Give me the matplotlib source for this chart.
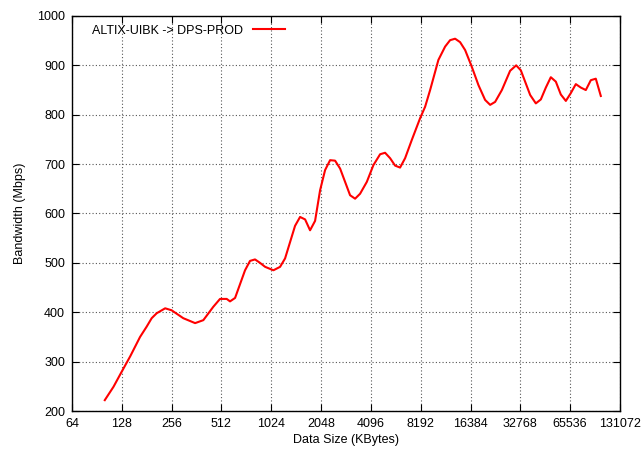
import matplotlib
matplotlib.use("Agg")
import matplotlib.pyplot as plt
from matplotlib.ticker import FixedLocator, NullLocator

plt.rcParams['font.family'] = ['Liberation Sans', 'DejaVu Sans']

# data size (KBytes) and measured bandwidth (Mbps)
size_kb = [101, 114, 128, 144, 165, 181, 194, 208, 234, 256, 301, 355, 398, 457,
           502, 551, 577, 619,
           711, 762, 817, 876, 940, 1055, 1158, 1241, 1426, 1529, 1640, 1757,
           1884, 2020, 2166, 2322, 2489, 2669, 2861, 3066, 3288, 3524, 3870,
           4242, 4657, 4991, 5352, 5736, 6148, 6593, 7238, 8124, 8707, 9338,
           10478, 11505, 12330, 13221, 14171, 15199, 16680, 18295, 20070,
           21530, 23070, 25340, 28420, 30920, 32990, 37570, 40650, 43580,
           46720, 50070, 53700, 57550, 61720, 66180, 70920, 76030, 81480,
           87380, 93640, 100390]
bandwidth = [222, 249, 280, 311, 350, 371, 388, 398, 408, 404, 388, 378, 384, 411,
             427, 427, 422, 429,
             485, 504, 507, 500, 492, 485, 492, 509, 575, 593, 588, 566,
             585, 647, 688, 708, 707, 691, 664, 637, 630, 640, 664,
             698, 720, 723, 712, 697, 693, 712, 749, 793, 816, 850,
             911, 938, 951, 954, 947, 931, 897, 860, 830,
             820, 826, 850, 889, 900, 890, 840, 823, 831,
             855, 876, 867, 841, 828, 844, 862, 855, 850,
             870, 873, 838]

xticks = [64, 128, 256, 512, 1024, 2048, 4096, 8192, 16384, 32768, 65536, 131072]
yticks = [200, 300, 400, 500, 600, 700, 800, 900, 1000]

fig = plt.figure(figsize=(6.41, 4.49), dpi=100)
ax = fig.add_axes([0.1123, 0.0846, 0.8549, 0.8798])

ax.plot(size_kb, bandwidth, color='#ff0000', lw=1.5, label='ALTIX-UIBK -> DPS-PROD')

ax.set_xscale('log', base=2)
ax.set_xlim(64, 131072)
ax.set_ylim(200, 1000)
ax.xaxis.set_major_locator(FixedLocator(xticks))
ax.xaxis.set_minor_locator(NullLocator())
ax.set_xticklabels([str(v) for v in xticks])
ax.set_yticks(yticks)

ax.grid(True, color='#555555', linestyle=(0, (1, 2)), linewidth=0.8)
ax.tick_params(direction='in', top=True, right=True, length=5, labelsize=9, width=0.8, pad=5)
for s in ax.spines.values():
    s.set_linewidth(1.0)

ax.set_xlabel('Data Size (KBytes)', fontsize=9, labelpad=3)
ax.set_ylabel('Bandwidth (Mbps)', fontsize=9, labelpad=8)

ax.legend(loc='upper left', frameon=False, markerfirst=False, fontsize=9,
          handlelength=2.6, borderaxespad=0.3, bbox_to_anchor=(0.02, 1.0))

fig.savefig('out.png', dpi=100)
